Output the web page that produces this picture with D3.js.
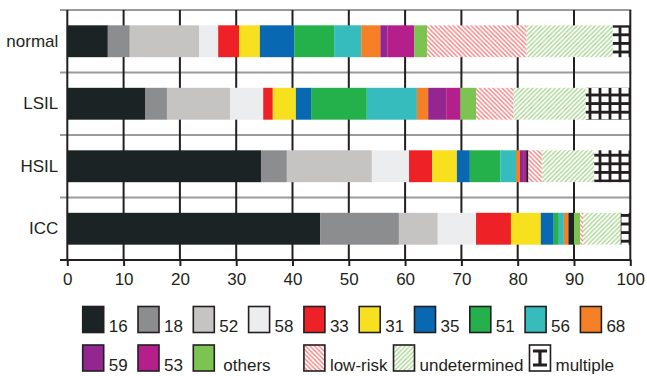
<!DOCTYPE html>
<html>
<head>
<meta charset="utf-8">
<script src="https://cdn.jsdelivr.net/npm/d3@7/dist/d3.min.js"></script>
<style>
  html, body { margin: 0; padding: 0; background: #fff; }
  svg text { font-family: "Liberation Sans", Arial, Helvetica, sans-serif; fill: #231f20; }
</style>
</head>
<body>
<svg id="chart" width="647" height="376"></svg>
<script>
// HPV type distribution (%) per cytology / histology group
const categories = ["normal", "LSIL", "HSIL", "ICC"];

const v16   = [7.2, 13.8, 34.4, 44.9];
const v18   = [3.9, 3.9, 4.6, 14.0];
const v52   = [12.3, 11.2, 15.1, 6.9];
const v58   = [3.4, 5.9, 6.6, 6.8];
const v33   = [3.7, 1.7, 4.1, 6.2];
const v31   = [3.7, 4.1, 4.4, 5.3];
const v35   = [6.1, 2.7, 2.3, 2.3];
const v51   = [7.1, 9.9, 5.4, 0.9];
const v56   = [4.8, 8.9, 2.8, 0.9];
const v68   = [3.4, 2.0, 0.7, 0.8];
const v59   = [1.3, 3.2, 0.7, 0.0];
const v53   = [4.7, 2.5, 0.4, 0.0];
const vMixed = [0.0, 0.0, 0.4, 1.0];
const vOthers = [2.3, 2.8, 0.0, 1.1];
const vLowRisk = [17.7, 6.7, 2.4, 0.5];
const vUndetermined = [15.3, 12.8, 9.3, 6.7];
const vMultiple = [3.1, 7.9, 6.4, 1.7];

const xTicks = [0, 10, 20, 30, 40, 50, 60, 70, 80, 90, 100];

// stacking order, colours / fills
const series = [
  { key: "16", values: v16, fill: "#1c2324" },
  { key: "18", values: v18, fill: "#8c8d8f" },
  { key: "52", values: v52, fill: "#c5c4c2" },
  { key: "58", values: v58, fill: "#ecedef" },
  { key: "33", values: v33, fill: "#ee2127" },
  { key: "31", values: v31, fill: "#f7e01e" },
  { key: "35", values: v35, fill: "#0868b1" },
  { key: "51", values: v51, fill: "#24b14c" },
  { key: "56", values: v56, fill: "#36bcbc" },
  { key: "68", values: v68, fill: "#f58025" },
  { key: "59", values: v59, fill: "#93278f" },
  { key: "53", values: v53, fill: "#b51f8b" },
  { key: "mixed", values: vMixed, fill: "#1c2324", noLegend: true },
  { key: "others", values: vOthers, fill: "#7dc352" },
  { key: "low-risk", values: vLowRisk, fill: "url(#hatch-red)" },
  { key: "undetermined", values: vUndetermined, fill: "url(#hatch-green)" },
  { key: "multiple", values: vMultiple, fill: "url(#grid-multi)", legendFill: "#fff" }
];

const svg = d3.select("#chart");
const ink = "#231f20";
const fontSize = 17;

// ---- patterns ----
const defs = svg.append("defs");
const red = defs.append("pattern").attr("id", "hatch-red")
  .attr("patternUnits", "userSpaceOnUse").attr("width", 4.5).attr("height", 4.5);
red.append("rect").attr("width", 4.5).attr("height", 4.5).attr("fill", "#fff");
red.append("path").attr("d", "M0,0L4.5,4.5M-1,3.5L1,5.5M3.5,-1L5.5,1")
  .attr("stroke", "#f47b7d").attr("stroke-width", 1.3);

const green = defs.append("pattern").attr("id", "hatch-green")
  .attr("patternUnits", "userSpaceOnUse").attr("width", 4.5).attr("height", 4.5);
green.append("rect").attr("width", 4.5).attr("height", 4.5).attr("fill", "#fff");
green.append("path").attr("d", "M0,4.5L4.5,0M-1,1L1,-1M3.5,5.5L5.5,3.5")
  .attr("stroke", "#a6d58e").attr("stroke-width", 1.3);

const grid = defs.append("pattern").attr("id", "grid-multi")
  .attr("patternUnits", "userSpaceOnUse").attr("width", 10).attr("height", 8.6)
  .attr("x", -5).attr("y", 4.7);
grid.append("rect").attr("width", 10).attr("height", 8.6).attr("fill", "#fff");
grid.append("path").attr("d", "M5,0V8.6M0,4.3H10")
  .attr("stroke", ink).attr("stroke-width", 2.8);

// ---- scales ----
const x = d3.scaleLinear().domain([0, 100]).range([67.3, 630.3]);
const y = d3.scaleBand().domain(categories).range([10, 260])
  .paddingInner(0.49).paddingOuter(0.245);

// ---- grid / frame ----
const frame = svg.append("g");
frame.selectAll("line.hsep")
  .data([10, ...categories.slice(1).map(c => y(c) - y.step() * y.paddingInner() / 2)])
  .join("line")
  .attr("x1", 60).attr("x2", x(100) + 1)
  .attr("y1", d => d).attr("y2", d => d)
  .attr("stroke", "#9b9b9b").attr("stroke-width", 1.8);

frame.selectAll("line.vgrid")
  .data(xTicks)
  .join("line")
  .attr("x1", d => x(d)).attr("x2", d => x(d))
  .attr("y1", 10).attr("y2", 260)
  .attr("stroke", ink).attr("stroke-width", 2);

// ---- bars ----
const stackData = categories.map((c, i) => {
  const row = { cat: c };
  series.forEach(s => row[s.key] = s.values[i]);
  return row;
});
const stacked = d3.stack().keys(series.map(s => s.key))(stackData);

svg.append("g").selectAll("g")
  .data(stacked)
  .join("g")
  .attr("fill", (d, i) => series[i].fill)
  .selectAll("rect")
  .data(d => d)
  .join("rect")
  .attr("x", d => x(d[0]))
  .attr("width", d => Math.max(0, x(d[1]) - x(d[0])))
  .attr("y", d => y(d.data.cat))
  .attr("height", y.bandwidth());

// ---- axes ----
const xAxis = svg.append("g").attr("transform", "translate(0,260)")
  .call(d3.axisBottom(x).tickValues(xTicks).tickSize(6).tickPadding(7).tickFormat(d3.format("d")));
xAxis.select(".domain").remove();
xAxis.selectAll(".tick line").attr("stroke", ink).attr("stroke-width", 2);
xAxis.selectAll(".tick text").attr("font-size", fontSize).style("font-family", "Liberation Sans, Arial, sans-serif").attr("fill", ink);
svg.append("line").attr("x1", 60).attr("x2", x(100) + 1).attr("y1", 260).attr("y2", 260)
  .attr("stroke", ink).attr("stroke-width", 2.2);

const yAxis = svg.append("g").attr("transform", `translate(${x(0)},0)`)
  .call(d3.axisLeft(y).tickSize(0).tickPadding(9));
yAxis.select(".domain").remove();
yAxis.selectAll(".tick text").attr("font-size", fontSize).style("font-family", "Liberation Sans, Arial, sans-serif").attr("fill", ink);

// ---- legend ----
const legendItems = series.filter(s => !s.noLegend);
const boxW = 21, boxH = 26, colStep = 55.3, col0 = 82.7;
const rowTop = [306.5, 345];
const leg = svg.append("g");

let flowX = null;
legendItems.forEach((s, i) => {
  const row = i < 10 ? 0 : 1;
  const col = row === 0 ? i : i - 10;
  let bx;
  if (row === 0 || col < 3) bx = col0 + col * colStep;
  else bx = flowX === null ? col0 + 4 * colStep : flowX;
  const by = rowTop[row];
  const g = leg.append("g");
  g.append("rect").attr("x", bx).attr("y", by).attr("width", boxW).attr("height", boxH)
    .attr("fill", s.legendFill || s.fill).attr("stroke", ink).attr("stroke-width", 1.6);
  if (s.key === "multiple") {
    g.append("path")
      .attr("d", `M${bx + 3.5},${by + 6}H${bx + boxW - 3.5}M${bx + boxW / 2},${by + 6}V${by + 20}M${bx + 3.5},${by + 20}H${bx + boxW - 3.5}`)
      .attr("stroke", ink).attr("stroke-width", 3.2).attr("fill", "none");
  }
  const lx = s.key === "others" ? bx + boxW + 9 : bx + boxW + 5;
  const t = g.append("text").attr("x", lx).attr("y", by + boxH - 0.5)
    .attr("font-size", fontSize).text(s.key);
  if (row === 1 && col >= 3) flowX = lx + t.node().getComputedTextLength() + 6;
});
</script>
</body>
</html>
